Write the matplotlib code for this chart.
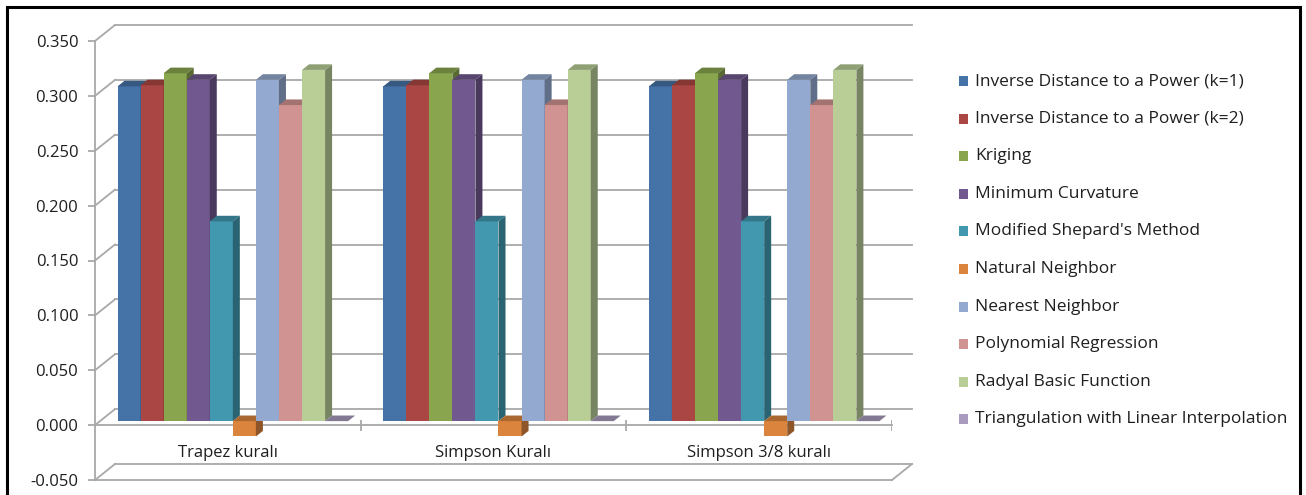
import matplotlib.pyplot as plt
from matplotlib.patches import Polygon, Rectangle
from matplotlib.lines import Line2D
from matplotlib.transforms import offset_copy, IdentityTransform
from matplotlib.colors import to_rgb

plt.rcParams['font.family'] = ['Open Sans', 'DejaVu Sans']

# veriler
kurallar = ['Trapez kuralı', 'Simpson Kuralı', 'Simpson 3/8 kuralı']
yontemler = ['Inverse Distance to a Power (k=1)', 'Inverse Distance to a Power (k=2)',
             'Kriging', 'Minimum Curvature', "Modified Shepard's Method",
             'Natural Neighbor', 'Nearest Neighbor', 'Polynomial Regression',
             'Radyal Basic Function', 'Triangulation with Linear Interpolation']
trapez = [0.305, 0.306, 0.317, 0.311, 0.182, -0.014, 0.311, 0.288, 0.320, 0.000]
simpson = [0.305, 0.306, 0.317, 0.311, 0.182, -0.014, 0.311, 0.288, 0.320, 0.000]
simpson38 = [0.305, 0.306, 0.317, 0.311, 0.182, -0.014, 0.311, 0.288, 0.320, 0.000]
degerler = [trapez, simpson, simpson38]
renkler = ['#4572A7', '#AA4643', '#89A54E', '#71588F', '#4198AF',
           '#DB843D', '#93A9CF', '#D19392', '#B9CD96', '#A99BBD']
y_ticks = [-0.05, 0.0, 0.05, 0.10, 0.15, 0.20, 0.25, 0.30, 0.35]

W, H = 1306, 495
DX, DY = 20, 16          # derinlik (piksel)
D0, D1 = 0.25, 0.60      # cubuklarin on ve arka yuzu
izgara = '#a8a8a8'
yazi = '#1f1f1f'

fig = plt.figure(figsize=(W / 100, H / 100), dpi=100)
ax = fig.add_axes([95 / W, 15 / H, 797 / W, 439 / H])
ax.set_xlim(-0.5, 2.5)
ax.set_ylim(-0.05, 0.35)
ax.set_autoscale_on(False)


def koyu(c, f):
    r, g, b = to_rgb(c)
    return (r * f, g * f, b * f)


def nokta(x, y, d=0.0):
    px, py = ax.transData.transform((x, y))
    return (px + d * DX, py + d * DY)


def cizgi(p, q, z=1):
    ax.add_line(Line2D([p[0], q[0]], [p[1], q[1]], transform=IdentityTransform(),
                       color=izgara, lw=1.3, zorder=z, clip_on=False))


def yuz(pts, c, z):
    ax.add_patch(Polygon(pts, closed=True, transform=IdentityTransform(),
                         facecolor=c, lw=0, zorder=z, clip_on=False))


# arka duvar ve yan duvar
arka = offset_copy(ax.transData, fig=fig, x=DX, y=DY, units='dots')
for y in y_ticks:
    ax.plot([-0.5, 2.5], [y, y], transform=arka, color=izgara, lw=1.3,
            clip_on=False, zorder=1)
    cizgi(nokta(-0.5, y), nokta(-0.5, y, 1))
cizgi(nokta(2.5, -0.05), nokta(2.5, -0.05, 1))

# sifir ekseni ve kategori isaretleri
ax.plot([-0.5, 2.5], [0, 0], color=izgara, lw=1.3, clip_on=False, zorder=1)
ax.vlines([0.5, 1.5, 2.5], -0.005, 0.005, color=izgara, lw=1.3, zorder=1)

for s in ['top', 'right']:
    ax.spines[s].set_visible(False)
for s in ['left', 'bottom']:
    ax.spines[s].set_color(izgara)
    ax.spines[s].set_linewidth(1.3)
ax.set_yticks(y_ticks)
ax.set_yticklabels(['%.3f' % v for v in y_ticks])
ax.tick_params(axis='y', length=5, width=1.3, color=izgara, pad=7,
               labelsize=12, labelcolor=yazi)
ax.set_xticks([])
ax.patch.set_visible(False)

for i, k in enumerate(kurallar):
    ax.text(i, -0.025, k, ha='center', va='center', fontsize=12, color=yazi)

# cubuklar
bw = 0.0868
on = offset_copy(ax.transData, fig=fig, x=D0 * DX, y=D0 * DY, units='dots')
for i, grup in enumerate(degerler):
    xs = [i - 5 * bw + (j + 0.5) * bw for j in range(len(grup))]
    bars = ax.bar(xs, grup, bw, color=renkler, transform=on, clip_on=False)
    for j, (r, v) in enumerate(zip(bars, grup)):
        z = 3 + i + j * 0.01
        r.set_zorder(z)
        x0, x1 = xs[j] - bw / 2, xs[j] + bw / 2
        alt, ust = min(0, v), max(0, v)
        yan = [nokta(x1, alt, D0), nokta(x1, ust, D0), nokta(x1, ust, D1), nokta(x1, alt, D1)]
        tepe = [nokta(x0, ust, D0), nokta(x1, ust, D0), nokta(x1, ust, D1), nokta(x0, ust, D1)]
        yuz(yan, koyu(renkler[j], 0.65), z + 0.001)
        yuz(tepe, koyu(renkler[j], 0.78), z + 0.002)

# lejant
for k, (ad, c) in enumerate(zip(yontemler, renkler)):
    yc = H - (81 + k * 37.6)
    fig.add_artist(Rectangle((959 / W, (yc - 5) / H), 9 / W, 10 / H,
                             transform=fig.transFigure, facecolor=c, lw=0))
    fig.text(975 / W, yc / H, ad, ha='left', va='center', fontsize=12.5, color=yazi)

# cerceve
fig.add_artist(Rectangle((7 / W, -20 / H), 1293 / W, (488 + 20) / H,
                         transform=fig.transFigure, fill=False, edgecolor='black',
                         lw=2.2, zorder=10))

fig.savefig('out.png', dpi=100)
